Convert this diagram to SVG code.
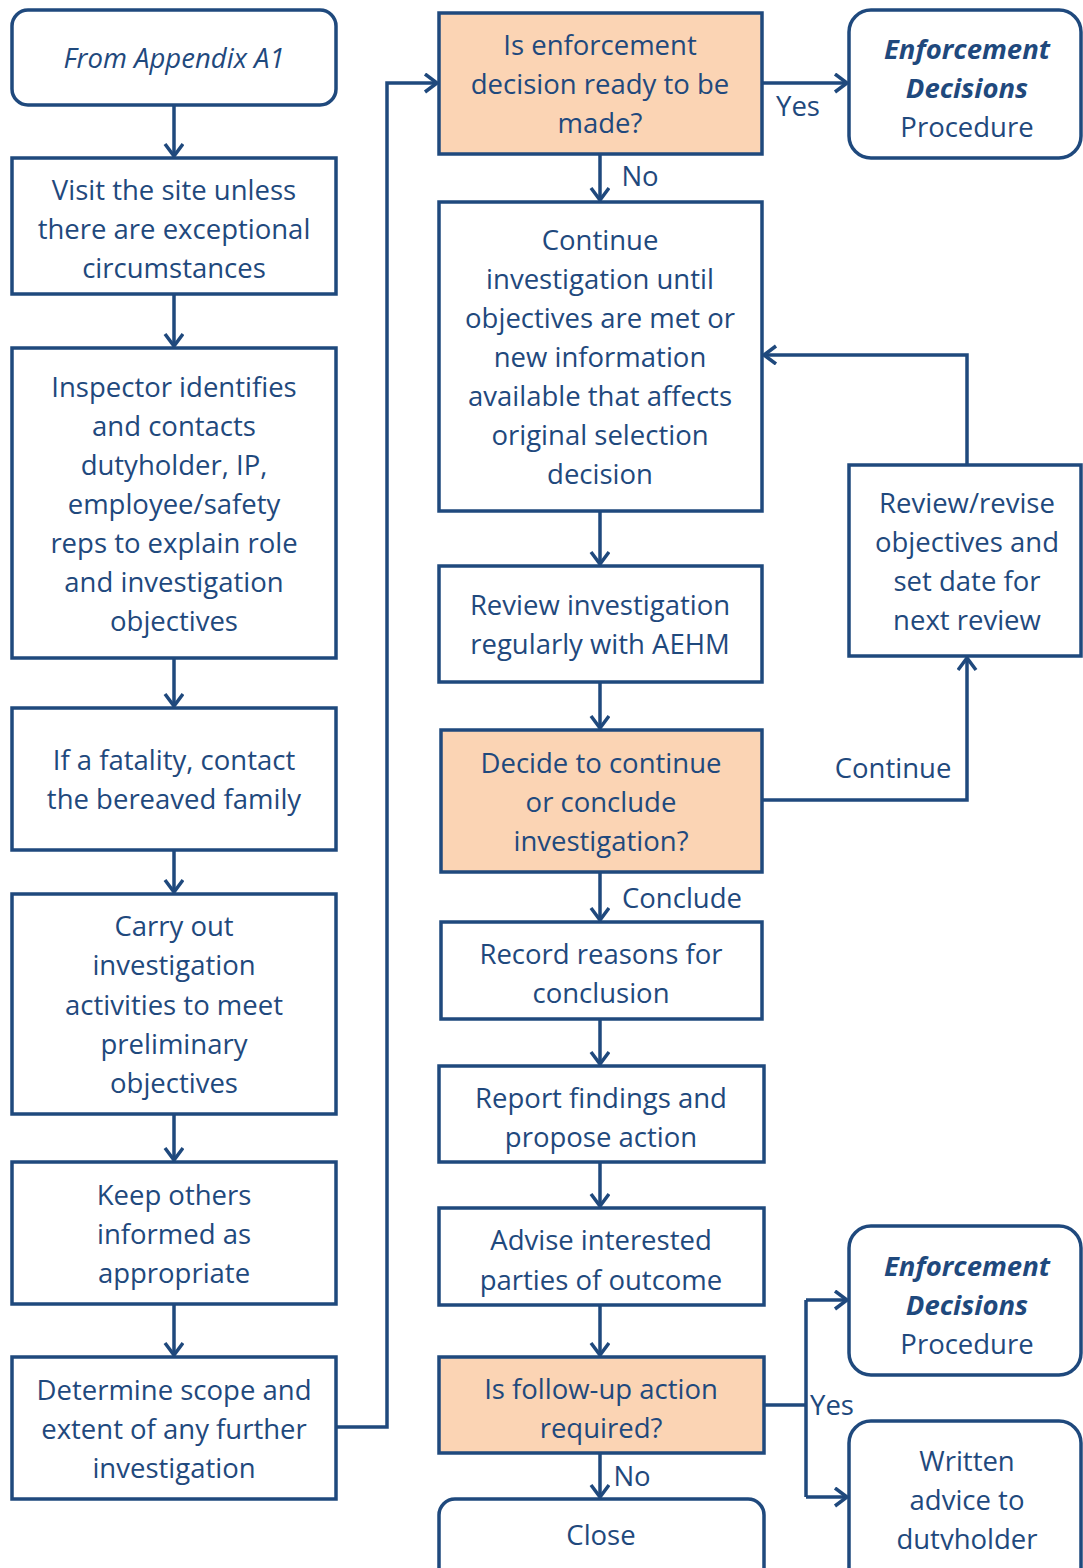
<svg xmlns="http://www.w3.org/2000/svg" width="1083" height="1568" viewBox="0 0 1083 1568">
<style>
.b{fill:#fff;stroke:#1F497D;stroke-width:3.5}
.d{fill:#FBD4B4;stroke:#1F497D;stroke-width:3.5}
text{font-family:"Open Sans","Noto Sans",sans-serif;font-size:27.5px;fill:#1F497D;text-anchor:middle}
.c{fill:none;stroke:#1F497D;stroke-width:3.5}
</style>
<defs>
<marker id="a" markerUnits="userSpaceOnUse" markerWidth="20" markerHeight="24" refX="14" refY="10" orient="auto">
<path d="M2,1 L14,10 L2,19" fill="none" stroke="#1F497D" stroke-width="3.5"/>
</marker>
<clipPath id="cl"><rect x="0" y="0" width="1083" height="1550"/></clipPath>
</defs>
<g id="connectors" class="c">
<path d="M174,105 V156" marker-end="url(#a)"/>
<path d="M174,294 V346" marker-end="url(#a)"/>
<path d="M174,658 V706" marker-end="url(#a)"/>
<path d="M174,850 V892" marker-end="url(#a)"/>
<path d="M174,1114 V1160" marker-end="url(#a)"/>
<path d="M174,1304 V1355" marker-end="url(#a)"/>
<path d="M336,1427 H387 V83 H437" marker-end="url(#a)"/>
<path d="M762,83 H847" marker-end="url(#a)"/>
<path d="M600,154 V200" marker-end="url(#a)"/>
<path d="M600,511 V564" marker-end="url(#a)"/>
<path d="M600,682 V728" marker-end="url(#a)"/>
<path d="M762,800 H967 V658" marker-end="url(#a)"/>
<path d="M967,465 V355 H764" marker-end="url(#a)"/>
<path d="M600,872 V920" marker-end="url(#a)"/>
<path d="M600,1019 V1064" marker-end="url(#a)"/>
<path d="M600,1162 V1206" marker-end="url(#a)"/>
<path d="M600,1305 V1355" marker-end="url(#a)"/>
<path d="M600,1453 V1497" marker-end="url(#a)"/>
<path d="M764,1405 H806"/>
<path d="M806,1300 V1497"/>
<path d="M806,1300 H847" marker-end="url(#a)"/>
<path d="M806,1497 H847" marker-end="url(#a)"/>
</g>
<g id="labels">
<text x="798" y="116">Yes</text>
<text x="640" y="186">No</text>
<text x="893" y="778">Continue</text>
<text x="682" y="908">Conclude</text>
<text x="832" y="1415">Yes</text>
<text x="632" y="1486">No</text>
</g>
<g id="n1"><rect class="b" x="12" y="10" width="324" height="95" rx="16"/><text x="174" y="68" font-style="italic">From Appendix A1</text></g>
<g id="n2"><rect class="b" x="12" y="158" width="324" height="136"/><text x="174" y="200">Visit the site unless</text><text x="174" y="239">there are exceptional</text><text x="174" y="278">circumstances</text></g>
<g id="n3"><rect class="b" x="12" y="348" width="324" height="310"/><text x="174" y="397">Inspector identifies</text><text x="174" y="436">and contacts</text><text x="174" y="475">dutyholder, IP,</text><text x="174" y="514">employee/safety</text><text x="174" y="553">reps to explain role</text><text x="174" y="592">and investigation</text><text x="174" y="631">objectives</text></g>
<g id="n4"><rect class="b" x="12" y="708" width="324" height="142"/><text x="174" y="770">If a fatality, contact</text><text x="174" y="809">the bereaved family</text></g>
<g id="n5"><rect class="b" x="12" y="894" width="324" height="220"/><text x="174" y="936">Carry out</text><text x="174" y="975">investigation</text><text x="174" y="1015">activities to meet</text><text x="174" y="1054">preliminary</text><text x="174" y="1093">objectives</text></g>
<g id="n6"><rect class="b" x="12" y="1162" width="324" height="142"/><text x="174" y="1205">Keep others</text><text x="174" y="1244">informed as</text><text x="174" y="1283">appropriate</text></g>
<g id="n7"><rect class="b" x="12" y="1357" width="324" height="142"/><text x="174" y="1400">Determine scope and</text><text x="174" y="1439">extent of any further</text><text x="174" y="1478">investigation</text></g>
<g id="n8"><rect class="d" x="439" y="13" width="323" height="141"/><text x="600" y="55">Is enforcement</text><text x="600" y="94">decision ready to be</text><text x="600" y="133">made?</text></g>
<g id="n9"><rect class="b" x="439" y="202" width="323" height="309"/><text x="600" y="250">Continue</text><text x="600" y="289">investigation until</text><text x="600" y="328">objectives are met or</text><text x="600" y="367">new information</text><text x="600" y="406">available that affects</text><text x="600" y="445">original selection</text><text x="600" y="484">decision</text></g>
<g id="n10"><rect class="b" x="439" y="566" width="323" height="116"/><text x="600" y="615">Review investigation</text><text x="600" y="654">regularly with AEHM</text></g>
<g id="n11"><rect class="d" x="441" y="730" width="321" height="142"/><text x="601" y="773">Decide to continue</text><text x="601" y="812">or conclude</text><text x="601" y="851">investigation?</text></g>
<g id="n12"><rect class="b" x="441" y="922" width="321" height="97"/><text x="601" y="964">Record reasons for</text><text x="601" y="1003">conclusion</text></g>
<g id="n13"><rect class="b" x="439" y="1066" width="325" height="96"/><text x="601" y="1108">Report findings and</text><text x="601" y="1147">propose action</text></g>
<g id="n14"><rect class="b" x="439" y="1208" width="325" height="97"/><text x="601" y="1250">Advise interested</text><text x="601" y="1290">parties of outcome</text></g>
<g id="n15"><rect class="d" x="439" y="1357" width="325" height="96"/><text x="601" y="1399">Is follow-up action</text><text x="601" y="1438">required?</text></g>
<g id="n16"><rect class="b" x="439" y="1499" width="325" height="90" rx="16"/><text x="601" y="1545">Close</text></g>
<g id="n17"><rect class="b" x="849" y="10" width="232" height="148" rx="22"/><text x="967" y="59" font-weight="bold" font-style="italic">Enforcement</text><text x="967" y="98" font-weight="bold" font-style="italic">Decisions</text><text x="967" y="137">Procedure</text></g>
<g id="n18"><rect class="b" x="849" y="465" width="232" height="191"/><text x="967" y="513">Review/revise</text><text x="967" y="552">objectives and</text><text x="967" y="591">set date for</text><text x="967" y="630">next review</text></g>
<g id="n19"><rect class="b" x="849" y="1226" width="232" height="149" rx="22"/><text x="967" y="1276" font-weight="bold" font-style="italic">Enforcement</text><text x="967" y="1315" font-weight="bold" font-style="italic">Decisions</text><text x="967" y="1354">Procedure</text></g>
<g id="n20"><rect class="b" x="849" y="1421" width="232" height="170" rx="22"/><g clip-path="url(#cl)"><text x="967" y="1471">Written</text><text x="967" y="1510">advice to</text><text x="967" y="1549">dutyholder</text></g></g>
</svg>
